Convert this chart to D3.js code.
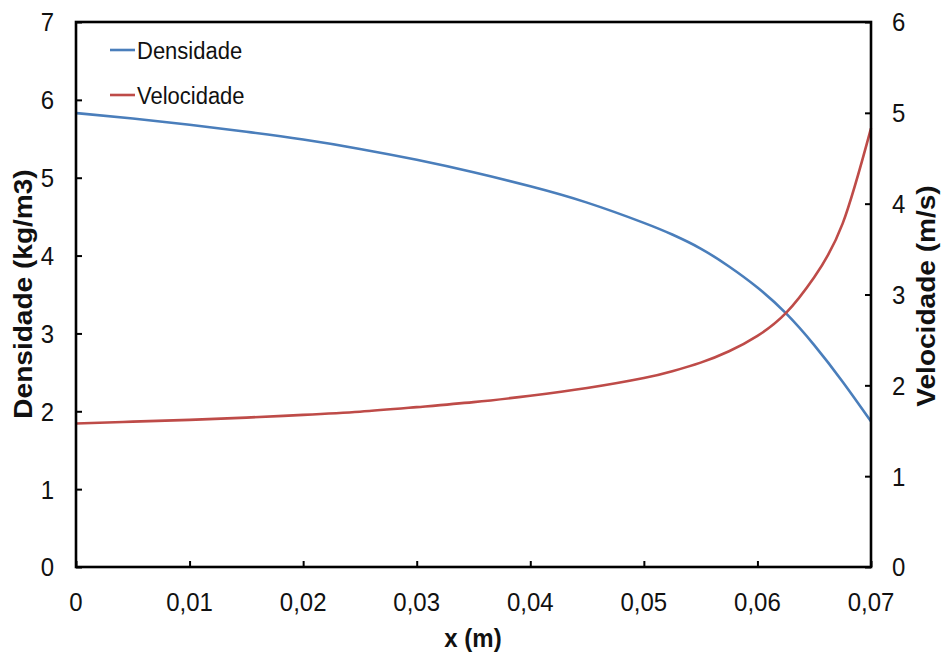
<!DOCTYPE html>
<html><head><meta charset="utf-8">
<script src="https://cdn.jsdelivr.net/npm/d3@7"></script>
<style>body{margin:0;background:#fff}svg{display:block}text{font-family:Arial,"Liberation Sans",sans-serif;fill:#111}</style>
</head><body>
<svg id="c" width="944" height="656"></svg>
<script>
const xValues = [0,0.005,0.01,0.015,0.02,0.025,0.03,0.035,0.04,0.045,0.05,0.0525,0.055,0.0575,0.06,0.0625,0.065,0.0675,0.07];
const densidade = [5.83,5.76,5.68,5.59,5.49,5.37,5.23,5.07,4.89,4.68,4.42,4.27,4.09,3.86,3.59,3.26,2.85,2.38,1.87];
const velocidade = [1.58,1.60,1.62,1.645,1.675,1.71,1.76,1.815,1.885,1.97,2.08,2.155,2.25,2.375,2.545,2.795,3.19,3.78,4.83];
const xTicks = [0,0.01,0.02,0.03,0.04,0.05,0.06,0.07];
const yLeftTicks = [0,1,2,3,4,5,6,7];
const yRightTicks = [0,1,2,3,4,5,6];
const seriesNames = ["Densidade","Velocidade"];
const colors = ["#4A7EBB","#BE4B48"];

const svg = d3.select("#c");
const L=76,R=871,T=22,B=567, SY=1.1;
const x = d3.scaleLinear().domain([0,0.07]).range([L,R]);
const yL = d3.scaleLinear().domain([0,7]).range([B,T]);
const yR = d3.scaleLinear().domain([0,6]).range([B,T]);
const fmt = d => d===0 ? "0" : d.toFixed(2).replace(".",",");

function label(px,py,txt,opts={}){
  const g = svg.append("g").attr("transform",`translate(${px},${py}) scale(1,${SY})${opts.rot?` rotate(${opts.rot})`:""}`);
  return g.append("text").text(txt).attr("text-anchor",opts.anchor||"middle")
    .attr("dominant-baseline","central").attr("font-size",opts.size||24)
    .attr("font-weight",opts.bold?"bold":"normal");
}

// axes (ticks inward)
const gx = svg.append("g").attr("transform",`translate(0,${B})`)
  .call(d3.axisBottom(x).tickValues(xTicks).tickSizeInner(-6).tickSizeOuter(0).tickFormat(""));
const gl = svg.append("g").attr("transform",`translate(${L},0)`)
  .call(d3.axisLeft(yL).tickValues(yLeftTicks).tickSizeInner(-6).tickSizeOuter(0).tickFormat(""));
const gr = svg.append("g").attr("transform",`translate(${R},0)`)
  .call(d3.axisRight(yR).tickValues(yRightTicks).tickSizeInner(-6).tickSizeOuter(0).tickFormat(""));
[gx,gl,gr].forEach(g=>{g.selectAll("path").remove();g.selectAll("line").attr("stroke","#000").attr("stroke-width",2);});

xTicks.forEach(t=>label(x(t),602,fmt(t)));
yLeftTicks.forEach(t=>label(54,yL(t),String(t),{anchor:"end"}));
yRightTicks.forEach(t=>label(892,yR(t),String(t),{anchor:"start"}));

// lines
const pts = xValues.map((v,i)=>({x:v,d:densidade[i],v:velocidade[i]}));
svg.append("path").datum(pts).attr("fill","none").attr("stroke",colors[0]).attr("stroke-width",2.6)
  .attr("d",d3.line().x(p=>x(p.x)).y(p=>yL(p.d)).curve(d3.curveNatural));
svg.append("path").datum(pts).attr("fill","none").attr("stroke",colors[1]).attr("stroke-width",2.6)
  .attr("d",d3.line().x(p=>x(p.x)).y(p=>yR(p.v)).curve(d3.curveNatural));

// frame
svg.append("rect").attr("x",L).attr("y",T).attr("width",R-L).attr("height",B-T)
  .attr("fill","none").attr("stroke","#000").attr("stroke-width",2.6);

// legend
seriesNames.forEach((n,i)=>{
  const ly = 50 + i*45;
  svg.append("line").attr("x1",110).attr("x2",135).attr("y1",ly).attr("y2",ly)
    .attr("stroke",colors[i]).attr("stroke-width",2.6);
  label(137,ly+1,n,{anchor:"start",size:22});
});

// titles
label(473,638,"x (m)",{bold:true,size:24});
label(23,294,"Densidade (kg/m3)",{bold:true,size:25.5,rot:-90});
label(926,296,"Velocidade (m/s)",{bold:true,size:25.5,rot:-90});
</script>
</body></html>
